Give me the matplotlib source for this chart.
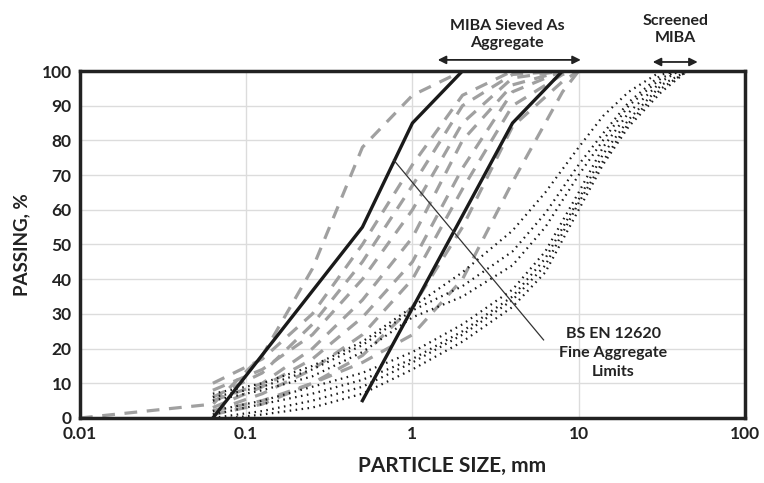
import matplotlib.pyplot as plt
from matplotlib.ticker import FixedLocator, FixedFormatter

plt.rcParams['font.family'] = ['Lato', 'DejaVu Sans']
plt.rcParams['font.weight'] = 'bold'
plt.rcParams['axes.labelweight'] = 'bold'

# BS EN 12620 fine aggregate limits
lim_lo_x = [0.063, 0.5, 1, 2, 100]
lim_lo_y = [0, 55, 85, 100, 100]
lim_hi_x = [0.5, 4, 8, 100]
lim_hi_y = [5, 85, 100, 100]

# MIBA sieved as aggregate (dashed grey)
dash_x = [
    [0.01, 0.063, 0.125, 0.25, 0.5, 1, 2],
    [0.063, 0.125, 0.25, 0.5, 1, 2, 4],
    [0.063, 0.125, 0.25, 0.5, 1, 2, 4, 8],
    [0.063, 0.125, 0.25, 0.5, 1, 2, 4, 8],
    [0.063, 0.125, 0.25, 0.5, 1, 2, 4, 8],
    [0.063, 0.125, 0.25, 0.5, 1, 2, 4, 8],
    [0.063, 0.125, 0.25, 0.5, 1, 2, 4, 8, 10],
    [0.063, 0.125, 0.25, 0.5, 1, 2, 4, 8, 10],
    [0.063, 0.125, 0.25, 0.5, 1, 2, 4, 8, 10],
]
dash_y = [
    [0, 4, 18, 43, 78, 93, 100],
    [10, 17, 30, 50, 73, 93, 100],
    [6, 13, 27, 45, 67, 90, 99, 100],
    [8, 14, 24, 40, 60, 85, 98, 100],
    [5, 10, 20, 34, 52, 80, 96, 100],
    [3, 9, 17, 29, 45, 72, 94, 100],
    [2, 7, 14, 24, 40, 66, 90, 99, 100],
    [1, 4, 10, 18, 32, 55, 84, 97, 100],
    [2, 5, 10, 16, 24, 40, 68, 94, 100],
]

# Screened MIBA (dotted black)
dot_x = [
    [0.063, 0.125, 0.25, 0.5, 1, 2, 4, 6.3, 10, 14, 20, 31.5],
    [0.063, 0.125, 0.25, 0.5, 1, 2, 4, 6.3, 10, 14, 20, 31.5, 40],
    [0.063, 0.125, 0.25, 0.5, 1, 2, 4, 6.3, 10, 14, 20, 31.5, 40],
    [0.063, 0.125, 0.25, 0.5, 1, 2, 4, 6.3, 10, 14, 20, 31.5, 40],
    [0.063, 0.125, 0.25, 0.5, 1, 2, 4, 6.3, 10, 14, 20, 31.5, 45],
    [0.063, 0.125, 0.25, 0.5, 1, 2, 4, 6.3, 10, 14, 20, 31.5, 45],
    [0.08, 0.125, 0.25, 0.5, 1, 2, 4, 6.3, 10, 14, 20, 31.5, 45],
]
dot_y = [
    [7, 10, 15, 22, 32, 42, 54, 65, 78, 87, 94, 100],
    [6, 9, 14, 21, 31, 38, 48, 59, 73, 82, 91, 99, 100],
    [5, 8, 12, 19, 29, 35, 44, 55, 70, 80, 90, 98, 100],
    [2, 5, 9, 13, 19, 27, 37, 48, 65, 78, 88, 97, 100],
    [1, 4, 7, 11, 17, 25, 35, 46, 63, 76, 86, 96, 100],
    [0, 2, 5, 9, 16, 24, 34, 44, 62, 74, 85, 95, 100],
    [0, 1, 3, 7, 14, 22, 32, 42, 60, 73, 84, 94, 100],
]

fig = plt.figure(figsize=(7.64, 4.83), dpi=100)
ax = fig.add_axes([0.1047, 0.1346, 0.8703, 0.7184])

for xs, ys in zip(dash_x, dash_y):
    ax.plot(xs, ys, color='#a0a0a0', lw=2.3, dashes=(4, 3))
for xs, ys in zip(dot_x, dot_y):
    ax.plot(xs, ys, color='#1a1a1a', lw=1.6, dashes=(0.7, 2.0))
ax.plot(lim_lo_x, lim_lo_y, color='#1a1a1a', lw=2.4)
ax.plot(lim_hi_x, lim_hi_y, color='#1a1a1a', lw=2.4)

ax.set_xscale('log')
ax.set_xlim(0.01, 100)
ax.set_ylim(0, 100)
ax.xaxis.set_major_locator(FixedLocator([0.01, 0.1, 1, 10, 100]))
ax.xaxis.set_major_formatter(FixedFormatter(['0.01', '0.1', '1', '10', '100']))
ax.xaxis.set_minor_locator(FixedLocator([]))
ax.set_yticks(range(0, 101, 10))
ax.grid(True, color='#dcdcdc', lw=1)
ax.set_axisbelow(True)
ax.tick_params(length=0, labelsize=12.5, pad=6, colors='#222222')
for s in ax.spines.values():
    s.set_linewidth(2.5)
    s.set_color('#222222')

ax.set_xlabel('PARTICLE SIZE, mm', fontsize=15, color='#222222')
ax.xaxis.set_label_coords(0.56, -0.11)
ax.set_ylabel('PASSING, %', fontsize=13.5, labelpad=8, color='#222222')

# annotations
ax.text(3.7, 110.5, 'MIBA Sieved As\nAggregate', ha='center', va='center',
        fontsize=11.5, linespacing=1.25, color='#222222', clip_on=False)
ax.annotate('', xy=(1.42, 103.2), xytext=(10.3, 103.2), xycoords='data',
            arrowprops=dict(arrowstyle='<|-|>', color='#222222', lw=1.3,
                            shrinkA=0, shrinkB=0, mutation_scale=12),
            annotation_clip=False)
ax.text(38.4, 112, 'Screened\nMIBA', ha='center', va='center',
        fontsize=11.5, linespacing=1.25, color='#222222', clip_on=False)
ax.annotate('', xy=(27.9, 102.6), xytext=(52, 102.6), xycoords='data',
            arrowprops=dict(arrowstyle='<|-|>', color='#222222', lw=1.3,
                            shrinkA=0, shrinkB=0, mutation_scale=12),
            annotation_clip=False)
ax.plot([0.77, 6.15], [74.4, 22.5], color='#333333', lw=0.9)
ax.text(16.2, 18.8, 'BS EN 12620\nFine Aggregate\nLimits', ha='center',
        va='center', fontsize=11.5, linespacing=1.45, color='#222222')

fig.savefig('out.png', dpi=100)
